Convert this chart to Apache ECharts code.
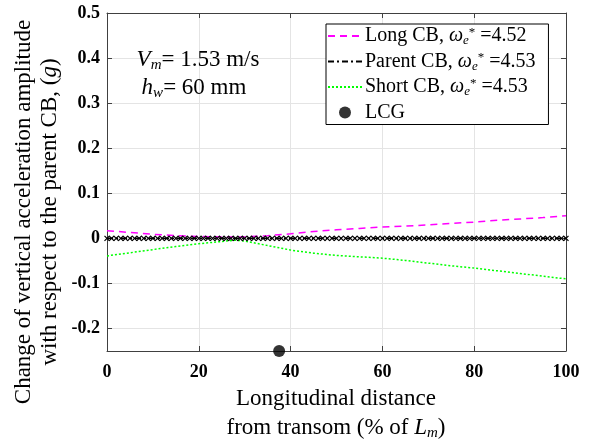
<!DOCTYPE html>
<html>
<head>
<meta charset="utf-8">
<script src="https://cdn.jsdelivr.net/npm/echarts@6/dist/echarts.min.js"></script>
<style>
html,body{margin:0;padding:0;background:#fff;}
#main{width:594px;height:447px;}
</style>
</head>
<body>
<div id="main"></div>
<script>
// x positions (% of Lm) for long / short CB
var xs = [0,5,10,15,20,25,28,30,35,40,45,50,55,60,65,70,75,80,85,90,95,100];
var longCB = [0.017,0.013,0.009,0.006,0.004,0.003,0.003,0.003,0.006,0.010,0.015,0.019,0.022,0.025,0.027,0.030,0.033,0.036,0.040,0.043,0.046,0.050];
var shortCB = [-0.039,-0.032,-0.025,-0.018,-0.012,-0.007,-0.004,-0.006,-0.016,-0.026,-0.033,-0.038,-0.041,-0.044,-0.049,-0.055,-0.061,-0.066,-0.072,-0.078,-0.084,-0.090];
// parent CB is the reference, so zero everywhere
var parentX = [0,1,2,3,4,5,6,7,8,9,10,11,12,13,14,15,16,17,18,19,20,21,22,23,24,25,26,27,28,29,30,31,32,33,34,35,36,37,38,39,40,41,42,43,44,45,46,47,48,49,50,51,52,53,54,55,56,57,58,59,60,61,62,63,64,65,66,67,68,69,70,71,72,73,74,75,76,77,78,79,80,81,82,83,84,85,86,87,88,89,90,91,92,93,94,95,96,97,98,99,100];
var parentCB = [0,0,0,0,0,0,0,0,0,0,0,0,0,0,0,0,0,0,0,0,0,0,0,0,0,0,0,0,0,0,0,0,0,0,0,0,0,0,0,0,0,0,0,0,0,0,0,0,0,0,0,0,0,0,0,0,0,0,0,0,0,0,0,0,0,0,0,0,0,0,0,0,0,0,0,0,0,0,0,0,0,0,0,0,0,0,0,0,0,0,0,0,0,0,0,0,0,0,0,0,0];
var lcg = [37.5, -0.25];
var names = ['Long CB', 'Parent CB', 'Short CB', 'LCG'];
var omegas = ['4.52', '4.53', '4.53'];
var yTicks = [-0.2,-0.1,0,0.1,0.2,0.3,0.4,0.5];

var serif = '"Liberation Serif", "DejaVu Serif", serif';
var axisColor = '#404040';
var gridColor = '#e4e4e4';

function pairs(x, y){
    var out = [];
    for (var i = 0; i < x.length; i++) out.push([x[i], y[i]]);
    return out;
}

var myChart = echarts.init(document.getElementById('main'));
var subStyle = {fontFamily: serif, fontSize: 13, fontStyle: 'italic', padding: [10,0,0,0], color: '#000'};
var supStyle = {fontFamily: serif, fontSize: 13, padding: [0,0,7,0], color: '#000'};
var itStyle = {fontFamily: serif, fontSize: 20, fontStyle: 'italic', color: '#000'};
var bigIt = {fontFamily: serif, fontSize: 23, fontStyle: 'italic'};
var bigSub = {fontFamily: serif, fontSize: 15, fontStyle: 'italic', padding: [11,0,0,0]};

var option = {
    animation: false,
    grid: {left: 107, right: 28, top: 13, bottom: 96, show: false, outerBoundsMode: 'none', containLabel: false},
    legend: {
        orient: 'vertical',
        left: 326,
        top: 24,
        padding: [2, 13, 2, 1],
        itemGap: 4,
        itemWidth: 34,
        itemHeight: 12,
        borderColor: '#000',
        borderWidth: 1,
        borderRadius: 0,
        backgroundColor: '#fff',
        data: [
            {name: names[0], itemStyle: {opacity: 0}},
            {name: names[1], itemStyle: {opacity: 0}},
            {name: names[2], itemStyle: {opacity: 0}},
            {name: names[3]}
        ],
        formatter: function (name) {
            var i = names.indexOf(name);
            if (i < 3) return name + ', {w|ω}{sub|e}{sup|*} =' + omegas[i];
            return name;
        },
        textStyle: {
            fontFamily: serif, fontSize: 20, color: '#000', padding: [0,0,0,-2],
            rich: {w: itStyle, sub: subStyle, sup: supStyle}
        }
    },
    xAxis: [{
        type: 'value', min: 0, max: 100, interval: 20,
        axisLine: {onZero: false, lineStyle: {color: axisColor, width: 1}},
        axisTick: {inside: true, length: 5, lineStyle: {color: axisColor}},
        axisLabel: {fontFamily: serif, fontSize: 18, fontWeight: 'bold', color: '#000', margin: 12},
        splitLine: {show: true, lineStyle: {color: gridColor}}
    }, {
        type: 'value', position: 'top', min: 0, max: 100, interval: 20,
        axisLine: {onZero: false, lineStyle: {color: axisColor}},
        axisTick: {inside: true, length: 5, lineStyle: {color: axisColor}},
        axisLabel: {show: false},
        splitLine: {show: false}
    }],
    yAxis: [{
        type: 'value', min: -0.25, max: 0.5,
        axisLine: {onZero: false, lineStyle: {color: axisColor, width: 1}},
        axisTick: {inside: true, length: 5, customValues: yTicks, lineStyle: {color: axisColor}},
        axisLabel: {
            fontFamily: serif, fontSize: 18, fontWeight: 'bold', color: '#000', margin: 7,
            customValues: yTicks,
            formatter: function (v) { return Math.abs(v) < 1e-9 ? '0' : v.toFixed(1); }
        },
        splitLine: {show: true, lineStyle: {color: gridColor}}
    }, {
        type: 'value', position: 'right', min: -0.25, max: 0.5,
        axisLine: {onZero: false, lineStyle: {color: axisColor}},
        axisTick: {inside: true, length: 5, customValues: yTicks, lineStyle: {color: axisColor}},
        axisLabel: {show: false},
        splitLine: {show: false}
    }],
    graphic: [{
        // y axis title
        type: 'text', x: 37, y: 212, rotation: Math.PI / 2, z: 100,
        style: {
            text: 'Change of vertical acceleration amplitude\nwith respect to the parent CB, ({i|g})',
            font: '23px ' + serif, fill: '#000', align: 'center', verticalAlign: 'middle', lineHeight: 26,
            rich: {i: bigIt}
        }
    }, {
        // x axis title
        type: 'text', x: 336, y: 413, z: 100,
        style: {
            text: 'Longitudinal distance\nfrom transom (% of {i|L}{sub|m})',
            font: '23px ' + serif, fill: '#000', align: 'center', verticalAlign: 'middle', lineHeight: 29,
            rich: {i: bigIt, sub: bigSub}
        }
    }, {
        type: 'text', x: 198, y: 60, z: 100,
        style: {
            text: '{i|V}{sub|m}= 1.53 m/s',
            font: '23px ' + serif, fill: '#000', align: 'center', verticalAlign: 'middle',
            rich: {i: bigIt, sub: bigSub}
        }
    }, {
        type: 'text', x: 194, y: 88, z: 100,
        style: {
            text: '{i|h}{sub|w}= 60 mm',
            font: '23px ' + serif, fill: '#000', align: 'center', verticalAlign: 'middle',
            rich: {i: bigIt, sub: bigSub}
        }
    }],
    series: [{
        name: names[0], type: 'line', data: pairs(xs, longCB),
        symbol: 'none', smooth: false, z: 3,
        lineStyle: {color: '#ff00ff', width: 1.5, type: [7, 5]},
        itemStyle: {color: '#ff00ff'}
    }, {
        name: names[1], type: 'line', data: pairs(parentX, parentCB),
        symbol: 'path://M0,0L1,1M1,0L0,1', symbolSize: 5, z: 4,
        lineStyle: {color: '#000', width: 1.5, type: [6, 3, 2, 3]},
        itemStyle: {color: '#000', borderColor: '#000', borderWidth: 1.2}
    }, {
        name: names[2], type: 'line', data: pairs(xs, shortCB),
        symbol: 'none', z: 3,
        lineStyle: {color: '#00ff00', width: 1.5, type: [2, 2]},
        itemStyle: {color: '#00ff00'}
    }, {
        name: names[3], type: 'scatter', data: [lcg],
        symbol: 'circle', symbolSize: 12, clip: false, z: 5,
        itemStyle: {color: '#000'}
    }]
};
myChart.setOption(option);
</script>
</body>
</html>
